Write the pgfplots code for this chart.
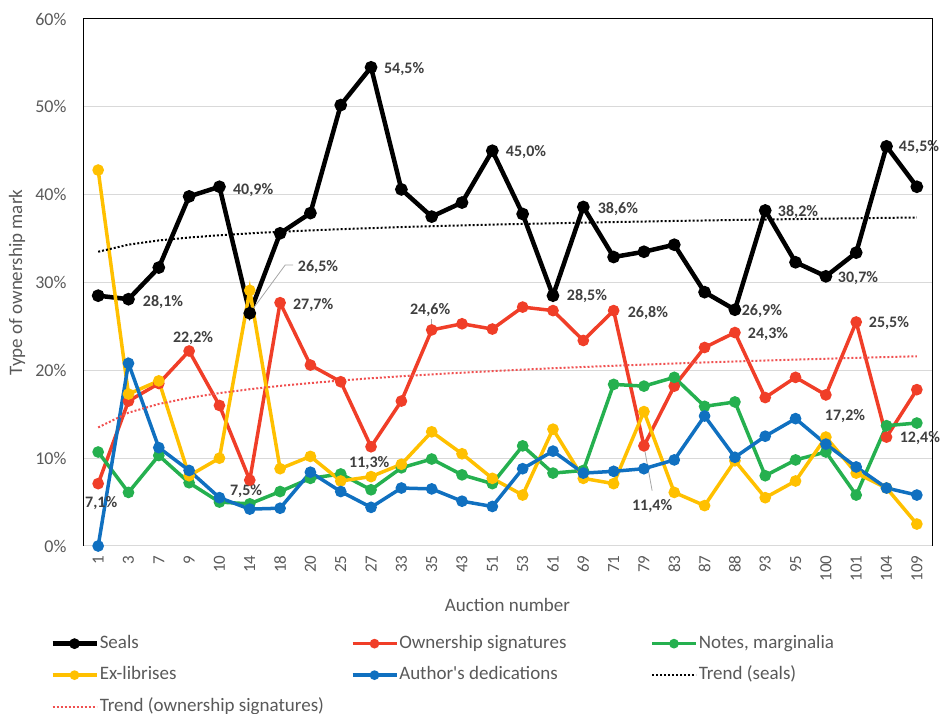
\documentclass[border=0pt]{standalone}
\usepackage{pgfplots}
\pgfplotsset{compat=1.18}
\usepackage{pgfplotstable}
\usepackage{fontspec}
\setmainfont{Carlito}

\definecolor{cseal}{HTML}{000000}
\definecolor{cown}{HTML}{F03E28}
\definecolor{cnote}{HTML}{25B04F}
\definecolor{cexl}{HTML}{FFC000}
\definecolor{cauth}{HTML}{1070C0}
\definecolor{ctrown}{HTML}{F05050}
\definecolor{txt}{HTML}{595959}
\definecolor{lbltxt}{HTML}{404040}
\definecolor{gridc}{HTML}{D9D9D9}

\tikzset{
  lbl/.style={font=\bfseries\fontsize{16}{16}\selectfont, text=lbltxt, inner sep=0pt},
  leader/.style={draw=gray!70, line width=0.8pt},
}
% legend entry box: fixed width
\newcommand\lent[1]{\makebox[250pt][l]{#1}}

% i = category index, values in percent
\pgfplotstableread{
i seals owner notes exlib author tseals towner
0  28.5  7.1 10.7 42.8  0.0 33.50 13.50
1  28.1 16.5  6.1 17.3 20.8 34.31 15.18
2  31.7 18.5 10.3 18.8 11.2 34.79 16.17
3  39.8 22.2  7.2  8.0  8.6 35.12 16.87
4  40.9 16.0  5.0 10.0  5.5 35.38 17.41
5  26.5  7.5  4.8 29.1  4.2 35.60 17.85
6  35.6 27.7  6.2  8.8  4.3 35.78 18.23
7  37.9 20.6  7.7 10.2  8.4 35.93 18.55
8  50.2 18.7  8.2  7.4  6.2 36.07 18.84
9  54.5 11.3  6.4  7.9  4.4 36.19 19.10
10 40.6 16.5  8.9  9.3  6.6 36.31 19.33
11 37.5 24.6  9.9 13.0  6.5 36.41 19.54
12 39.1 25.3  8.1 10.5  5.1 36.50 19.73
13 45.0 24.7  7.1  7.7  4.5 36.59 19.91
14 37.8 27.2 11.4  5.8  8.8 36.67 20.08
15 28.5 26.8  8.3 13.3 10.8 36.74 20.24
16 38.6 23.4  8.6  7.7  8.3 36.81 20.38
17 32.9 26.8 18.4  7.1  8.5 36.88 20.52
18 33.5 11.4 18.2 15.3  8.8 36.94 20.65
19 34.3 18.2 19.2  6.1  9.8 37.01 20.78
20 28.9 22.6 15.9  4.6 14.8 37.06 20.90
21 26.9 24.3 16.4  9.7 10.1 37.12 21.01
22 38.2 16.9  8.0  5.5 12.5 37.17 21.12
23 32.3 19.2  9.8  7.4 14.5 37.22 21.22
24 30.7 17.2 10.7 12.4 11.6 37.27 21.32
25 33.4 25.5  5.8  8.3  9.0 37.31 21.42
26 45.5 12.4 13.7  6.6  6.6 37.36 21.51
27 40.9 17.8 14.0  2.5  5.8 37.40 21.60
}\datatable

\begin{document}
\begin{tikzpicture}
\path[use as bounding box] (0,0) rectangle (942pt,714pt);
\begin{axis}[
  at={(83pt,168pt)}, anchor=south west,
  scale only axis, width=849pt, height=527pt,
  xmin=-0.5, xmax=27.5, ymin=0, ymax=60,
  xtick={0,...,27},
  xticklabels={1,3,7,9,10,14,18,20,25,27,33,35,43,51,53,61,69,71,79,83,87,88,93,95,100,101,104,109},
  ytick={0,10,...,60},
  yticklabels={0\%,10\%,20\%,30\%,40\%,50\%,60\%},
  ymajorgrids, grid style={color=gridc, line width=1pt},
  axis line style={draw=none},
  tick style={draw=none},
  ticklabel style={color=txt},
  xticklabel style={rotate=90, anchor=east, font=\fontsize{17}{17}\selectfont},
  yticklabel style={font=\fontsize{18}{18}\selectfont},
  xticklabel shift=6pt, yticklabel shift=13pt,
  xlabel={Auction number}, ylabel={Type of ownership mark},
  label style={color=txt, font=\fontsize{19}{19}\selectfont},
  xlabel style={at={(axis description cs:0.5,-0.112)}, anchor=center},
  ylabel style={at={(axis description cs:-0.0777,0.5)}, anchor=center},
  clip=false,
  legend columns=3,
  legend cell align=left,
  legend style={at={(axis description cs:-0.0388,-0.165)}, anchor=north west,
    draw=none, fill=none, inner sep=0pt,
    font=\fontsize{19}{23}\selectfont, text=txt,
    nodes={inner sep=1pt, text height=14pt, text depth=5pt},
    /tikz/row sep=10.5pt},
  legend image code/.code={\draw[mark repeat=2,mark phase=2,#1,mark size=3pt] plot coordinates {(0pt,0pt) (22pt,0pt) (44pt,0pt)};},
]
% plot frame: black on three sides, the 0 gridline forms the bottom
\draw[black, line width=1pt] (rel axis cs:0,0) -- (rel axis cs:0,1) -- (rel axis cs:1,1) -- (rel axis cs:1,0);

\addplot[cseal, line width=4.5pt, mark=*, mark size=4pt] table[x=i, y=seals] {\datatable};
\addlegendentry{\lent{Seals}}
\addplot[cown, line width=3.5pt, mark=*, mark size=4pt] table[x=i, y=owner] {\datatable};
\addlegendentry{\lent{Ownership signatures}}
\addplot[cnote, line width=3.5pt, mark=*, mark size=4pt] table[x=i, y=notes] {\datatable};
\addlegendentry{\lent{Notes, marginalia}}
\addplot[cexl, line width=3.5pt, mark=*, mark size=4pt] table[x=i, y=exlib] {\datatable};
\addlegendentry{\lent{Ex-librises}}
\addplot[cauth, line width=3.5pt, mark=*, mark size=4pt] table[x=i, y=author] {\datatable};
\addlegendentry{\lent{Author\textquotesingle s dedications}}
\addplot[black, line width=2pt, dash pattern=on 2pt off 2pt] table[x=i, y=tseals] {\datatable};
\addlegendentry{\lent{Trend (seals)}}
\addplot[ctrown, line width=2pt, dash pattern=on 2pt off 2pt] table[x=i, y=towner] {\datatable};
\addlegendentry{\lent{Trend (ownership signatures)}}

% leader lines
\draw[leader] (axis cs:5,26.5) -- (axis cs:6.17,32.0) -- (axis cs:6.43,32.0);
\draw[leader] (axis cs:11,24.6) -- (axis cs:11,25.9);
\draw[leader] (axis cs:18,11.4) -- (axis cs:18.27,6.3);

% data labels, seals
\node[lbl] at (axis cs:2.14,27.8) {28,1\%};
\node[lbl] at (axis cs:5.11,40.5) {40,9\%};
\node[lbl] at (axis cs:7.25,31.8) {26,5\%};
\node[lbl] at (axis cs:10.09,54.3) {54,5\%};
\node[lbl] at (axis cs:14.11,44.8) {45,0\%};
\node[lbl] at (axis cs:16.12,28.4) {28,5\%};
\node[lbl] at (axis cs:17.14,38.4) {38,6\%};
\node[lbl] at (axis cs:21.89,26.7) {26,9\%};
\node[lbl] at (axis cs:23.08,38.0) {38,2\%};
\node[lbl] at (axis cs:25.06,30.5) {30,7\%};
\node[lbl] at (axis cs:27.07,45.4) {45,5\%};
% data labels, ownership signatures
\node[lbl] at (axis cs:0.1,4.9) {7,1\%};
\node[lbl] at (axis cs:3.13,23.7) {22,2\%};
\node[lbl] at (axis cs:4.88,6.3) {7,5\%};
\node[lbl] at (axis cs:7.09,27.4) {27,7\%};
\node[lbl] at (axis cs:8.94,9.4) {11,3\%};
\node[lbl] at (axis cs:10.95,26.9) {24,6\%};
\node[lbl] at (axis cs:18.13,26.5) {26,8\%};
\node[lbl] at (axis cs:18.27,4.6) {11,4\%};
\node[lbl] at (axis cs:22.09,24.1) {24,3\%};
\node[lbl] at (axis cs:24.63,14.8) {17,2\%};
\node[lbl] at (axis cs:26.08,25.4) {25,5\%};
\node[lbl] at (axis cs:27.1,12.3) {12,4\%};
\end{axis}
\end{tikzpicture}
\end{document}
